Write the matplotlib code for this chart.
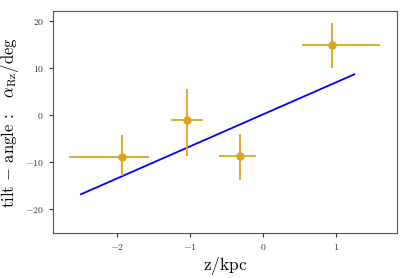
import matplotlib
matplotlib.use('Agg')
import matplotlib.pyplot as plt

plt.rcParams['mathtext.fontset'] = 'cm'
plt.rcParams['font.family'] = 'serif'
plt.rcParams['font.serif'] = ['cmr10', 'DejaVu Serif']
plt.rcParams['axes.formatter.use_mathtext'] = True

# dane z wykresu
z = [-1.94, -1.05, -0.315, 0.947]
tilt = [-8.84, -1.13, -8.7, 14.86]
z_err_lo = [0.725, 0.22, 0.29, 0.41]
z_err_hi = [0.375, 0.23, 0.22, 0.66]
tilt_err_lo = [4.1, 7.6, 5.1, 4.9]
tilt_err_hi = [4.5, 6.6, 4.6, 4.6]

# linia dopasowania
fit_z = [-2.5, 1.25]
fit_tilt = [-16.8, 8.6]

fig, ax = plt.subplots(figsize=(4.07, 2.78), dpi=100)
fig.subplots_adjust(left=0.13, right=0.975, top=0.96, bottom=0.162)

ax.plot(fit_z, fit_tilt, color='blue', lw=1.3)
ax.errorbar(z, tilt, xerr=[z_err_lo, z_err_hi], yerr=[tilt_err_lo, tilt_err_hi],
            fmt='o', color='goldenrod', ms=5, elinewidth=1.3, capsize=0)

ax.set_xlim(-2.885, 1.835)
ax.set_ylim(-25, 22)
ax.set_xticks([-2, -1, 0, 1])
ax.set_yticks([-20, -10, 0, 10, 20])
ax.tick_params(labelsize=7, colors='#333333', length=3)
for s in ax.spines.values():
    s.set_color('#555555')

ax.set_xlabel(r'$\mathrm{z/kpc}$', fontsize=12.5, labelpad=2)
ax.set_ylabel(r'$\mathrm{tilt}\,-\,\mathrm{angle}\,:\;\ \ \alpha_\mathrm{Rz}/\mathrm{deg}$',
              fontsize=12, labelpad=3)

fig.savefig('out.png', dpi=100)
